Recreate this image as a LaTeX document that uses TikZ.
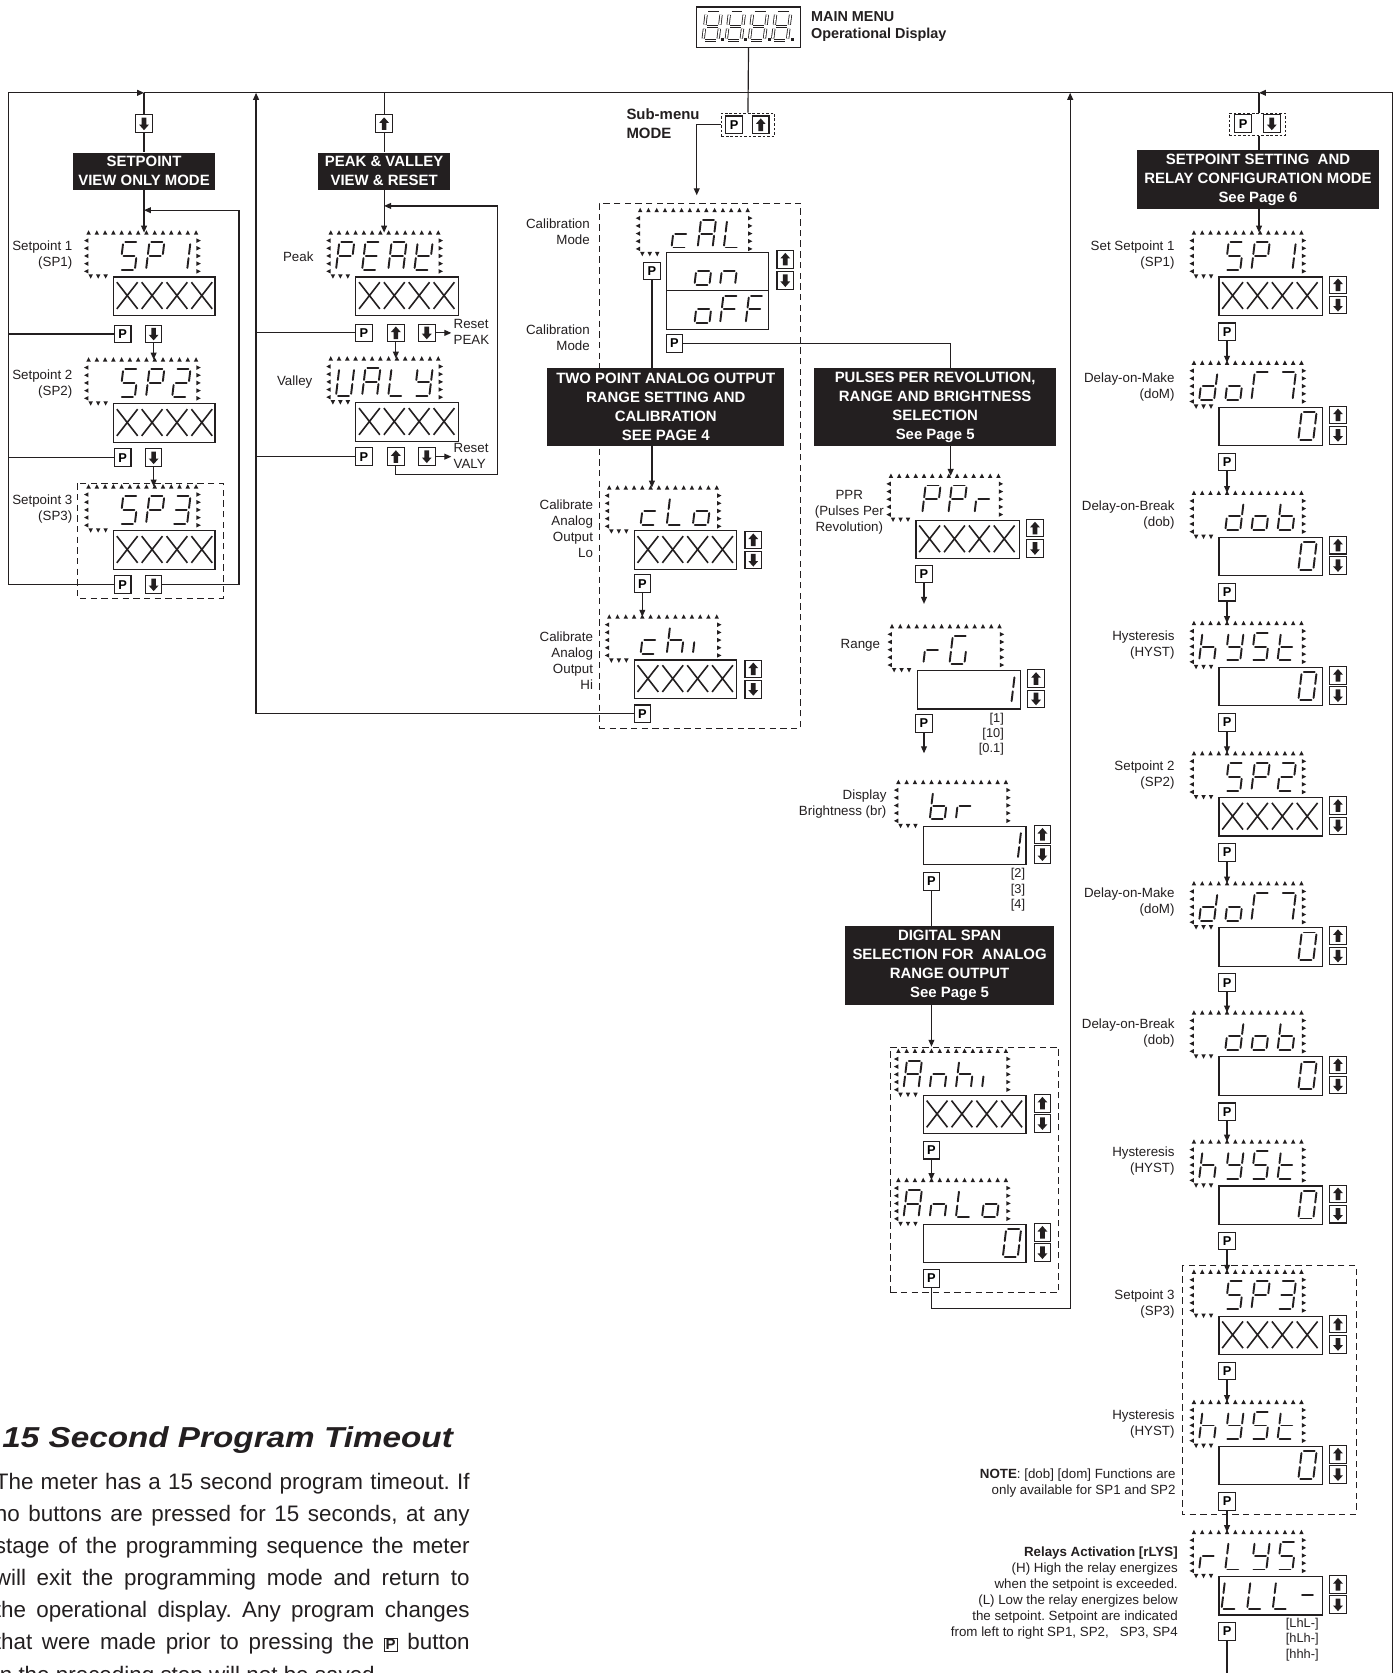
\documentclass[tikz,border=0pt]{standalone}
\usepackage{graphicx}
\usepackage{fontspec}
\setmainfont{Liberation Sans}
\usetikzlibrary{arrows.meta}
\frenchspacing
\definecolor{ink}{HTML}{231F20}
\tikzset{
  ln/.style={draw=ink, line width=1.1pt},
  arr/.style={draw=ink, line width=1.1pt, -{Triangle[length=6.5pt,width=5.5pt]}},
  hdr/.style={fill=ink, text=white, font=\bfseries\fontsize{14}{17.7}\selectfont, align=center, inner sep=0pt},
  btn/.style={draw=ink, fill=white, line width=1pt, minimum width=15.5pt, minimum height=16.5pt, inner sep=0pt, font=\bfseries\fontsize{12}{12}\selectfont},
  vbox/.style={draw=ink, line width=1.1pt, inner sep=0pt, anchor=north west, minimum height=36pt},
  dbox/.style={draw=ink, line width=0.8pt, dash pattern=on 6pt off 4pt, inner sep=0pt},
  dboxs/.style={draw=ink, line width=0.8pt, dash pattern=on 2.5pt off 1.8pt, inner sep=0pt},
  lbl/.style={font=\fontsize{12.5}{15}\selectfont, inner sep=0pt, align=right, anchor=east, text=ink},
  lbll/.style={font=\fontsize{12.5}{15}\selectfont, inner sep=0pt, align=left, anchor=west, text=ink},
  seg/.style={draw=ink, line width=1.8pt, line cap=round},
  xs/.style={draw=ink, line width=1.5pt},
}
% seven segment definitions (cell 14 x 26, y downward)
\expandafter\def\csname sg@a\endcsname{\draw[seg] (1.9,0)--(12.1,0);}
\expandafter\def\csname sg@b\endcsname{\draw[seg] (14,1.9)--(14,11.1);}
\expandafter\def\csname sg@c\endcsname{\draw[seg] (14,14.9)--(14,24.1);}
\expandafter\def\csname sg@d\endcsname{\draw[seg] (1.9,26)--(12.1,26);}
\expandafter\def\csname sg@e\endcsname{\draw[seg] (0,14.9)--(0,24.1);}
\expandafter\def\csname sg@f\endcsname{\draw[seg] (0,1.9)--(0,11.1);}
\expandafter\def\csname sg@g\endcsname{\draw[seg] (1.9,13)--(12.1,13);}
\def\svA{a,b,c,e,f,g}\def\svb{c,d,e,f,g}\def\svc{d,e,g}\def\svd{b,c,d,e,g}
\def\svE{a,d,e,f,g}\def\svF{a,e,f,g}\def\svG{a,c,d,e,f}\def\svh{c,e,f,g}
\def\svi{e}\def\svK{b,d,e,f,g}\def\svL{d,e,f}\def\svn{c,e,g}\def\svo{c,d,e,g}
\def\svP{a,b,e,f,g}\def\svr{e,g}\def\svS{a,c,d,f,g}\def\svt{d,e,f,g}
\def\svU{b,c,d,e,f}\def\svY{b,c,d,f,g}\def\svZero{a,b,c,d,e,f}\def\svOne{b,c}
\def\svTwo{a,b,d,e,g}\def\svThree{a,b,c,d,g}\def\svEight{a,b,c,d,e,f,g}
\def\svDash{g}\def\svMa{a,e,f}\def\svMb{a,b,c}
\newcommand\SegCh[3]{%
  \begin{scope}[shift={(#1,#2)}, xslant=0.12]
    \edef\seglist{#3}%
    \foreach \sg in \seglist {\csname sg@\sg\endcsname}
  \end{scope}}
\newcommand\DCh[4]{\ifx\relax#4\relax\else\SegCh{#1+10+24.5*#3}{#2+9}{#4}\fi}
\newcommand\VC[4]{\ifx\relax#4\relax\else\SegCh{#1+6+24*#3}{#2+5}{#4}\fi}
\newcommand\Disp[7]{%
  \node[inner sep=0pt, minimum width=105pt, minimum height=42pt, anchor=north west] (#1) at (#2,#3) {};
  \foreach \i in {0,...,13}{\fill[ink] ({#2+2+7.75*\i},{#3}) +(-2.1,1.9) -- +(2.1,1.9) -- +(0,-2.2) -- cycle;}
  \foreach \i in {0,...,4}{\fill[ink] ({#2},{#3+7.5+7.2*\i}) +(1.9,-2.1) -- +(1.9,2.1) -- +(-2.2,0) -- cycle;
     \fill[ink] ({#2+105},{#3+7.5+7.2*\i}) +(-1.9,-2.1) -- +(-1.9,2.1) -- +(2.2,0) -- cycle;}
  \foreach \i in {0,1,2}{\fill[ink] ({#2+4+7*\i},{#3+41}) +(-2.1,-1.9) -- +(2.1,-1.9) -- +(0,2.2) -- cycle;}
  \DCh{#2}{#3}{0}{#4}\DCh{#2}{#3}{1}{#5}\DCh{#2}{#3}{2}{#6}\DCh{#2}{#3}{3}{#7}}
\newcommand\Vbox[4]{\node[vbox, minimum width=#4pt] (#1) at (#2,#3) {};}
\newcommand\Xs[2]{\foreach \i in {0,...,3}{\draw[xs] ({#1+3.5+23.3*\i},{#2+5.5}) -- ++(19.5,25) ({#1+23+23.3*\i},{#2+5.5}) -- ++(-19.5,25);}}
\newcommand\VCh[6]{\VC{#1}{#2}{0}{#3}\VC{#1}{#2}{1}{#4}\VC{#1}{#2}{2}{#5}\VC{#1}{#2}{3}{#6}}
\newcommand\PB[3]{\node[btn] (#1) at (#2,#3) {P};}
\newcommand\UpB[3]{\node[btn] (#1) at (#2,#3) {};
  \fill[ink] (#2,#3) ++(0,-6) -- ++(4.6,5.2) -- ++(-2.4,0) -- ++(0,6.6) -- ++(-4.4,0) -- ++(0,-6.6) -- ++(-2.4,0) -- cycle;}
\newcommand\DnB[3]{\node[btn] (#1) at (#2,#3) {};
  \fill[ink] (#2,#3) ++(0,6) -- ++(4.6,-5.2) -- ++(-2.4,0) -- ++(0,-6.6) -- ++(-4.4,0) -- ++(0,6.6) -- ++(-2.4,0) -- cycle;}
\newcommand\pkey{{\setlength\fboxsep{1pt}\setlength\fboxrule{0.9pt}\fbox{\fontsize{14}{14}\selectfont\bfseries P}}}

\begin{document}
\begin{tikzpicture}[x=1pt,y=-1pt]
\fill[white] (0,0) rectangle (1310,1568);
\useasboundingbox (0,0) rectangle (1310,1568);

% ---------- dashed groups (background)
\draw[dbox] (73,453) rectangle (209,561);
\node[dbox, anchor=north west, minimum width=189pt, minimum height=492pt] (calbox) at (561,190) {};
\node[dbox, anchor=north west, minimum width=158pt, minimum height=230pt] (anbox) at (834,981) {};
\draw[dbox] (1108,1186) rectangle (1271,1419);

% ---------- main display
\node[draw=ink, line width=1.1pt, minimum width=98pt, minimum height=38pt, anchor=north west, inner sep=0pt] (md) at (652,6) {};
\begin{scope}[seg/.style={draw=ink, line width=0.75pt, double=white, double distance=1.5pt}]
  \foreach \k in {0,...,3}{\SegCh{662+21.7*\k}{12}{\svEight}
     \fill[ink] ({676+21.7*\k},35.5) rectangle ++(2.8,2.8);}
\end{scope}
\node[anchor=west, inner sep=0pt, align=left, text=ink, font=\bfseries\fontsize{13.5}{16}\selectfont] at (760,25) {MAIN MENU\\Operational Display};

% ---------- bus
\coordinate (busL) at (8,87);
\coordinate (j1) at (135,87);
\coordinate (j2) at (240,87);
\coordinate (j4) at (1003,87);
\coordinate (j5) at (1180,87);
\draw[ln] (j1) -- (j5);

% ---------- column 1: setpoint view
\DnB{dv0}{135}{116}
\node[hdr, minimum width=133pt, minimum height=35pt] (hv) at (135,160.5) {SETPOINT\\VIEW ONLY MODE};
\draw[ln] (j1) -- (dv0.north);
\draw[ln] (dv0.south) -- (hv.north);
\Disp{sv1}{81}{218}{}{\svS}{\svP}{\svOne}
\Vbox{sv1v}{106}{259}{95}\Xs{106}{259}
\Disp{sv2}{81}{337}{}{\svS}{\svP}{\svTwo}
\Vbox{sv2v}{106}{378}{95}\Xs{106}{378}
\Disp{sv3}{81}{456}{}{\svS}{\svP}{\svThree}
\Vbox{sv3v}{106}{497}{95}\Xs{106}{497}
\draw[arr] (hv.south) -- (hv.south |- sv1.north);
\node[lbl] at (68,239.5) {Setpoint 1\\(SP1)};
\node[lbl] at (68,359.5) {Setpoint 2\\(SP2)};
\node[lbl] at (68,477.5) {Setpoint 3\\(SP3)};
\PB{pv1}{115}{313}\DnB{dv1}{144}{313}
\PB{pv2}{115}{429}\DnB{dv2}{144}{429}
\PB{pv3}{115}{548}\DnB{dv3}{144}{548}
\draw[arr] (dv1.south) -- (dv1.south |- sv2.north);
\draw[arr] (dv2.south) -- (dv2.south |- sv3.north);
\draw[arr] (pv3.west) -| (busL) -- (j1);
\draw[ln] (pv1.west) -- (pv1.west -| busL);
\draw[ln] (pv2.west) -- (pv2.west -| busL);
\coordinate (rv) at (224,197);
\draw[arr] (dv3.east) -| (rv) -- (rv -| hv.south);

% ---------- column 2: peak & valley
\UpB{uv0}{360}{116}
\node[hdr, minimum width=124pt, minimum height=35pt] (hp) at (360,160.5) {PEAK \& VALLEY\\VIEW \& RESET};
\draw[ln] (uv0.north) -- (uv0.north |- j1);
\draw[ln] (uv0.south) -- (hp.north);
\Disp{pk}{308}{218}{\svP}{\svE}{\svA}{\svK}
\Vbox{pkv}{333}{259}{96}\Xs{333}{259}
\draw[arr] (hp.south) -- (hp.south |- pk.north);
\node[lbl] at (294,241) {Peak};
\PB{pp1}{341}{312}\UpB{up1}{371}{312}\DnB{dp1}{400}{312}
\coordinate (rs1) at (423,312);
\draw[arr] (dp1.east) -- (rs1);
\node[lbll] at (425,311.5) {Reset\\PEAK};
\Disp{vy}{308}{336}{\svU}{\svA}{\svL}{\svY}
\Vbox{vyv}{333}{377}{96}\Xs{333}{377}
\draw[arr] (up1.south) -- (up1.south |- vy.north);
\node[lbl] at (293,358) {Valley};
\PB{pp2}{341}{428}\UpB{up2}{371}{428}\DnB{dp2}{400}{428}
\coordinate (rs2) at (423,428);
\draw[arr] (dp2.east) -- (rs2);
\node[lbll] at (425,427.5) {Reset\\VALY};
\coordinate (rp) at (466,193);
\draw[arr] (up2.south) -- ++(0,8) -| (rp) -- (rp -| hp.south);
\draw[ln] (pp1.west) -- (pp1.west -| j2);
\draw[ln] (pp2.west) -- (pp2.west -| j2);

% ---------- column 3: calibration
\node[anchor=west, inner sep=0pt, align=left, text=ink, font=\bfseries\fontsize{14}{18}\selectfont] at (587,116) {Sub-menu\\MODE};
\node[dboxs, minimum width=50pt, minimum height=22pt] (subbox) at (701,117) {};
\PB{ps}{688}{117}\UpB{us}{713}{117}
\draw[ln] (md.south) -- (subbox.north);
\coordinate (calin) at (653,183);
\draw[arr] (subbox.west) -| (calin);
\Disp{cal}{598}{197}{}{\svc}{\svA}{\svL}
\Vbox{onb}{624}{236}{96}\VCh{624}{236}{}{\svo}{\svn}{}
\Vbox{offb}{624}{272}{96}\VCh{624}{272}{}{\svo}{\svF}{\svF}
\UpB{ucal}{736}{243}\DnB{dcal}{736}{263}
\PB{pcal1}{611}{254}
\PB{pcal2}{632}{322}
\node[lbl] at (553,217) {Calibration\\Mode};
\node[lbl] at (553,316.5) {Calibration\\Mode};
\node[hdr, minimum width=222pt, minimum height=73pt] (htp) at (624,381.5) {TWO POINT ANALOG OUTPUT\\RANGE SETTING AND\\CALIBRATION\\SEE PAGE 4};
\node[hdr, minimum width=227pt, minimum height=73pt] (hpp) at (876.5,381.5) {PULSES PER REVOLUTION,\\RANGE AND BRIGHTNESS\\SELECTION\\See Page 5};
\draw[ln] (pcal1.south) -- (pcal1.south |- htp.north);
\draw[ln] (pcal2.east) -| ([xshift=14.5pt]hpp.north);
\Disp{clo}{569}{457}{}{\svc}{\svL}{\svo}
\Vbox{clov}{594}{497}{96}\Xs{594}{497}
\UpB{uclo}{706}{506}\DnB{dclo}{706}{525}
\draw[arr] (htp.south -| pcal1.south) -- (pcal1.south |- clo.north);
\node[lbl] at (556,495.5) {Calibrate\\Analog\\Output\\Lo};
\PB{pclo}{602}{547}
\Disp{chi}{569}{578}{}{\svc}{\svh}{\svi}
\Vbox{chiv}{594}{618}{96}\Xs{594}{618}
\UpB{uchi}{706}{627}\DnB{dchi}{706}{646}
\draw[arr] (pclo.south) -- (pclo.south |- chi.north);
\node[lbl] at (556,619.5) {Calibrate\\Analog\\Output\\Hi};
\PB{pchi}{602}{669}
\draw[arr] (pchi.west) -| (j2);

% ---------- column 4: PPR / range / brightness / analog span
\Disp{ppr}{833}{446}{}{\svP}{\svP}{\svr}
\Vbox{pprv}{858}{487}{97}\Xs{858}{487}
\UpB{uppr}{970}{495}\DnB{dppr}{970}{514}
\draw[arr] ([xshift=14.5pt]hpp.south) -- ([xshift=14.5pt]hpp.south |- ppr.north);
\node[inner sep=0pt, align=center, text=ink, font=\fontsize{12.5}{15}\selectfont] at (796,480) {PPR\\(Pulses Per\\Revolution)};
\PB{pppr}{866}{538}
\coordinate (pprend) at (866,566);
\draw[arr] (pppr.south) -- (pprend);
\Disp{rg}{834}{587}{}{\svr}{\svG}{}
\Vbox{rgv}{859}{628}{97}\VCh{859}{628}{}{}{}{\svOne}
\UpB{urg}{971}{636}\DnB{drg}{971}{655}
\node[lbl] at (825,605) {Range};
\node[lbl, font=\fontsize{12}{14}\selectfont] at (941,688) {[1]\\{}[10]\\{}[0.1]};
\PB{prg}{866}{678}
\coordinate (rgend) at (866,706);
\draw[arr] (prg.south) -- (rgend);
\Disp{br}{840}{733}{}{\svb}{\svr}{}
\Vbox{brv}{865}{774}{96}\VCh{865}{774}{}{}{}{\svOne}
\UpB{ubr}{977}{782}\DnB{dbr}{977}{801}
\node[lbl] at (831,754) {Display\\Brightness (br)};
\node[lbl, font=\fontsize{12}{14.5}\selectfont] at (961,834) {[2]\\{}[3]\\{}[4]};
\PB{pbr}{873}{826}
\node[hdr, minimum width=196pt, minimum height=74pt] (hds) at (890,905) {DIGITAL SPAN\\SELECTION FOR\ \ ANALOG\\RANGE OUTPUT\\See Page 5};
\draw[ln] (pbr.south) -- (pbr.south |- hds.north);
\draw[arr] (hds.south -| pbr.south) -- (pbr.south |- anbox.north);
\Disp{anhi}{840}{985}{\svA}{\svn}{\svh}{\svi}
\Vbox{anhiv}{865}{1026}{96}\Xs{865}{1026}
\UpB{uanhi}{977}{1034}\DnB{danhi}{977}{1053}
\PB{panhi}{873}{1078}
\Disp{anlo}{840}{1106}{\svA}{\svn}{\svL}{\svo}
\Vbox{anlov}{865}{1147}{96}\VCh{865}{1147}{}{}{}{\svZero}
\UpB{uanlo}{977}{1155}\DnB{danlo}{977}{1174}
\draw[arr] (panhi.south) -- (panhi.south |- anlo.north);
\PB{panlo}{873}{1198}
\draw[arr] (panlo.south) -- ++(0,19.5) -| (j4);

% ---------- column 5: setpoint setting
\node[dboxs, minimum width=53pt, minimum height=21pt] (sub5) at (1178.5,116.5) {};
\PB{p5}{1165}{116}\DnB{d5}{1192}{116}
\draw[ln] (j5) -- (j5 |- sub5.north);
\node[hdr, minimum width=226pt, minimum height=55pt] (hss) at (1179,168.5) {SETPOINT SETTING\ \ AND\\RELAY CONFIGURATION MODE\\See Page 6};
\draw[ln] (j5 |- sub5.south) -- (j5 |- hss.north);
\Disp{r1}{1117}{218}{}{\svS}{\svP}{\svOne}
\draw[arr] (j5 |- hss.south) -- (j5 |- r1.north);
\Vbox{r1v}{1142}{259}{97}\Xs{1142}{259}\UpB{r1u}{1254}{267}\DnB{r1d}{1254}{286}\PB{r1p}{1150}{311}
\Disp{r2}{1117}{340}{\svd}{\svo}{\svMa}{\svMb}
\Vbox{r2v}{1142}{381}{97}\VCh{1142}{381}{}{}{}{\svZero}\UpB{r2u}{1254}{389}\DnB{r2d}{1254}{408}\PB{r2p}{1150}{433}
\Disp{r3}{1117}{462}{}{\svd}{\svo}{\svb}
\Vbox{r3v}{1142}{503}{97}\VCh{1142}{503}{}{}{}{\svZero}\UpB{r3u}{1254}{511}\DnB{r3d}{1254}{530}\PB{r3p}{1150}{555}
\Disp{r4}{1117}{584}{\svh}{\svY}{\svS}{\svt}
\Vbox{r4v}{1142}{625}{97}\VCh{1142}{625}{}{}{}{\svZero}\UpB{r4u}{1254}{633}\DnB{r4d}{1254}{652}\PB{r4p}{1150}{677}
\Disp{r5}{1117}{706}{}{\svS}{\svP}{\svTwo}
\Vbox{r5v}{1142}{747}{97}\Xs{1142}{747}\UpB{r5u}{1254}{755}\DnB{r5d}{1254}{774}\PB{r5p}{1150}{799}
\Disp{r6}{1117}{828}{\svd}{\svo}{\svMa}{\svMb}
\Vbox{r6v}{1142}{869}{97}\VCh{1142}{869}{}{}{}{\svZero}\UpB{r6u}{1254}{877}\DnB{r6d}{1254}{896}\PB{r6p}{1150}{921}
\Disp{r7}{1117}{949}{}{\svd}{\svo}{\svb}
\Vbox{r7v}{1142}{990}{97}\VCh{1142}{990}{}{}{}{\svZero}\UpB{r7u}{1254}{998}\DnB{r7d}{1254}{1017}\PB{r7p}{1150}{1042}
\Disp{r8}{1117}{1070}{\svh}{\svY}{\svS}{\svt}
\Vbox{r8v}{1142}{1111}{97}\VCh{1142}{1111}{}{}{}{\svZero}\UpB{r8u}{1254}{1119}\DnB{r8d}{1254}{1138}\PB{r8p}{1150}{1163}
\Disp{r9}{1117}{1192}{}{\svS}{\svP}{\svThree}
\Vbox{r9v}{1142}{1233}{97}\Xs{1142}{1233}\UpB{r9u}{1254}{1241}\DnB{r9d}{1254}{1260}\PB{r9p}{1150}{1285}
\Disp{r10}{1117}{1314}{\svh}{\svY}{\svS}{\svt}
\Vbox{r10v}{1142}{1355}{97}\VCh{1142}{1355}{}{}{}{\svZero}\UpB{r10u}{1254}{1363}\DnB{r10d}{1254}{1382}\PB{r10p}{1150}{1407}
\Disp{r11}{1117}{1436}{\svr}{\svL}{\svY}{\svS}
\Vbox{r11v}{1142}{1477}{97}\VCh{1142}{1477}{\svL}{\svL}{\svL}{\svDash}\UpB{r11u}{1254}{1485}\DnB{r11d}{1254}{1504}\PB{r11p}{1150}{1529}
\foreach \a/\b in {r1/r2,r2/r3,r3/r4,r4/r5,r5/r6,r6/r7,r7/r8,r8/r9,r9/r10,r10/r11}
  {\draw[arr] (\a p.south) -- (\a p.south |- \b.north);}
\coordinate (bot) at (1150,1575);
\draw[ln] (r11p.south) -- (bot);
\coordinate (rb) at (1305,1575);
\draw[arr] (rb) |- (j5);
\node[lbl] at (1101,239.5) {Set Setpoint 1\\(SP1)};
\node[lbl] at (1101,362.5) {Delay-on-Make\\(doM)};
\node[lbl] at (1101,482.5) {Delay-on-Break\\(dob)};
\node[lbl] at (1101,604.5) {Hysteresis\\(HYST)};
\node[lbl] at (1101,726) {Setpoint 2\\(SP2)};
\node[lbl] at (1101,845) {Delay-on-Make\\(doM)};
\node[lbl] at (1101,968.5) {Delay-on-Break\\(dob)};
\node[lbl] at (1101,1088.5) {Hysteresis\\(HYST)};
\node[lbl] at (1101,1222.5) {Setpoint 3\\(SP3)};
\node[lbl] at (1101,1334.5) {Hysteresis\\(HYST)};
\node[lbl] at (1102,1390) {\textbf{NOTE}: [dob] [dom] Functions are\\only available for SP1 and SP2};
\node[lbl] at (1104,1493) {\textbf{Relays Activation [rLYS]}\\(H) High the relay energizes\\when the setpoint is exceeded.\\(L) Low the relay energizes below\\the setpoint. Setpoint are indicated\\from left to right SP1, SP2,\ \ \ SP3, SP4};
\node[lbll, font=\fontsize{12}{14.5}\selectfont] at (1205,1536.5) {[LhL-]\\{}[hLh-]\\{}[hhh-]};

% ---------- bottom-left text
\node[anchor=base west, inner sep=0pt, text=ink, font=\bfseries\itshape\fontsize{27}{30}\selectfont] (ttl) at (2,1357) {\scalebox{1.155}[1]{15 Second Program Timeout}};
\node[anchor=north west, inner sep=0pt, text width=445pt, align=justify, text=ink, font=\fontsize{21}{30}\selectfont] (par) at (-5,1381) {The meter has a 15 second program timeout. If\linebreak no buttons are pressed for 15 seconds, at any\linebreak stage of the programming sequence the meter\linebreak will exit the programming mode and return to\linebreak the operational display. Any program changes\linebreak that were made prior to pressing the \pkey{} button\linebreak in the preceding step will not be saved.};
\end{tikzpicture}
\end{document}
